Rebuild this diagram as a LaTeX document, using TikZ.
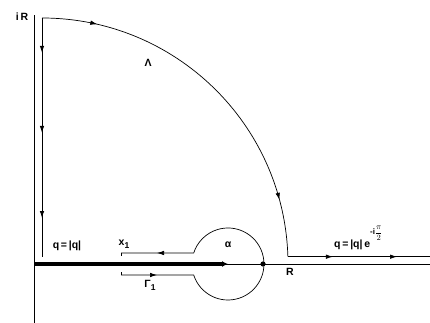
\documentclass[tikz,border=0pt]{standalone}
\usepackage{fontspec}
\setmainfont{Liberation Sans}
\usetikzlibrary{arrows.meta,decorations.markings}
\newcommand{\lowone}{\raisebox{-3pt}{\fontsize{8.5}{9}\selectfont 1}}
\tikzset{
  ln/.style={line width=0.7pt},
  lbl/.style={inner sep=0pt,font=\fontsize{10.5}{12}\selectfont\bfseries},
  midarr/.style={postaction={decorate,decoration={markings,mark=at position #1 with {\arrow{Latex[length=7pt,width=4.5pt]}}}}}
}
\begin{document}
\begin{tikzpicture}[x=1pt,y=1pt]
\useasboundingbox (0,0) rectangle (430,323);
% axes
\coordinate (ytop) at (34,308);
\coordinate (ybot) at (34,0);
\coordinate (orig) at (34,59);
\coordinate (xend) at (430,59);
\coordinate (ctr) at (228,59);
\draw[ln] (ybot) -- (ytop);
\draw[ln] (orig) -- (xend);
\draw[line width=3.5pt,-{Latex[length=6pt,width=6pt]}] (orig) -- (ctr);
% big contour
\coordinate (iR) at (42,305);
\coordinate (vb) at (42,66);
\coordinate (Rc) at (287.9,66.3);
\coordinate (rend) at (430,66.3);
\draw[line width=0.9pt,midarr=0.146,midarr=0.481,midarr=0.837] (iR) -- (vb);
\draw[ln,midarr=0.147,midarr=0.848] (iR) arc[start angle=90,end angle=1.7,radius=246];
\draw[ln,midarr=0.317,midarr=0.768] (Rc) -- (rend);
% keyhole
\coordinate (x1l) at (121,48);
\coordinate (jl) at (193.7,48);
\coordinate (x1u) at (121,70);
\draw[ln,midarr=36pt,midarr=-36pt] (x1l) -- (jl) arc[start angle=197.8,end angle=522.2,radius=36] -- (x1u);
\draw[ln] (x1l) -- ++(0,3);
\draw[ln] (x1u) -- ++(0,-3);
\fill (263,59) circle (2.6);
% labels
\node[lbl] (liR) at (22,306) {i\,R};
\node[lbl] (lLam) at (148,260) {Λ};
\node[lbl] (lal) at (228,78) {α};
\node[lbl] (lx) at (124,79) {x\lowone};
\node[lbl] (lG) at (150,38) {Γ\lowone};
\node[lbl] (lq) at (67,77) {q\,=\,|q|};
\node[lbl] (lR) at (290,51) {R};
\node[lbl,anchor=base west] (lq2) at (334,75) {q\,=\,|q|\,e\raisebox{13pt}{\fontsize{8}{9}\selectfont -i$\displaystyle\frac{\pi}{2}$}};
\end{tikzpicture}
\end{document}
